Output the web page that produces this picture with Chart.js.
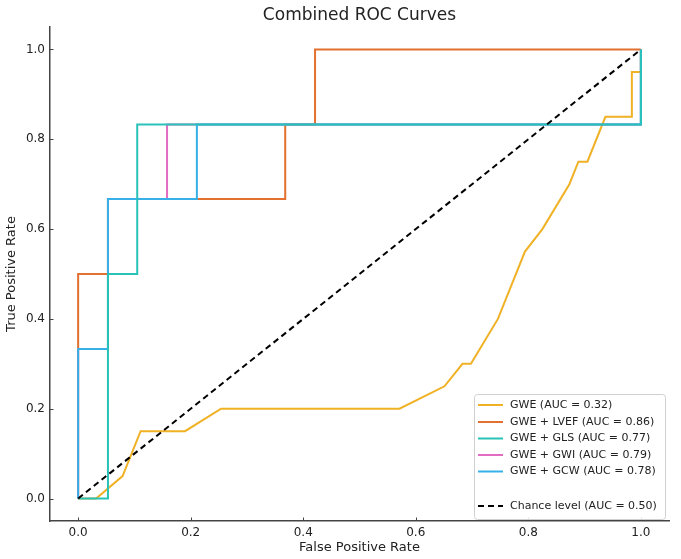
<!DOCTYPE html>
<html>
<head>
<meta charset="utf-8">
<script src="https://cdn.jsdelivr.net/npm/chart.js@4/dist/chart.umd.min.js"></script>
<style>
  html, body { margin: 0; padding: 0; background: #fff; }
  #wrap { width: 681px; height: 559px; }
</style>
</head>
<body>
<div id="wrap"><canvas id="roc" width="681" height="559"></canvas></div>
<script>
// ROC curve points
const fprGWE = [0, 0.032, 0.079, 0.111, 0.190, 0.254, 0.571, 0.651, 0.683, 0.698, 0.746, 0.794, 0.825, 0.873, 0.889, 0.905, 0.937, 0.984, 0.984, 1.0, 1.0];
const tprGWE = [0, 0, 0.05, 0.15, 0.15, 0.20, 0.20, 0.25, 0.30, 0.30, 0.40, 0.55, 0.60, 0.70, 0.75, 0.75, 0.85, 0.85, 0.95, 0.95, 1.0];

const fprLVEF = [0, 0, 0.053, 0.053, 0.368, 0.368, 0.421, 0.421, 1.0];
const tprLVEF = [0, 0.5, 0.5, 0.667, 0.667, 0.833, 0.833, 1.0, 1.0];

const fprGLS = [0, 0.053, 0.053, 0.105, 0.105, 1.0, 1.0];
const tprGLS = [0, 0, 0.5, 0.5, 0.833, 0.833, 1.0];

const fprGWI = [0, 0, 0.053, 0.053, 0.158, 0.158, 1.0, 1.0];
const tprGWI = [0, 0.333, 0.333, 0.667, 0.667, 0.833, 0.833, 1.0];

const fprGCW = [0, 0, 0.053, 0.053, 0.211, 0.211, 1.0, 1.0];
const tprGCW = [0, 0.333, 0.333, 0.667, 0.667, 0.833, 0.833, 1.0];

const fprChance = [0, 1];
const tprChance = [0, 1];

const tickValues = [0, 0.2, 0.4, 0.6, 0.8, 1.0];

const FONT = "'DejaVu Sans', sans-serif";
const TEXT = '#222';
const SPINE = '#444';

const toPoints = (xs, ys) => xs.map((x, i) => ({ x: x, y: ys[i] }));

// order: lower number is drawn on top
const series = [
  { label: 'GWE (AUC = 0.32)', xs: fprGWE, ys: tprGWE, color: '#f0b125', order: 5 },
  { label: 'GWE + LVEF (AUC = 0.86)', xs: fprLVEF, ys: tprLVEF, color: '#e2702f', order: 4 },
  { label: 'GWE + GLS (AUC = 0.77)', xs: fprGLS, ys: tprGLS, color: '#28c2b9', order: 1 },
  { label: 'GWE + GWI (AUC = 0.79)', xs: fprGWI, ys: tprGWI, color: '#e26cc2', order: 3 },
  { label: 'GWE + GCW (AUC = 0.78)', xs: fprGCW, ys: tprGCW, color: '#36b0e6', order: 2 }
];

const datasets = series.map(s => ({
  label: s.label,
  data: toPoints(s.xs, s.ys),
  borderColor: s.color,
  backgroundColor: s.color,
  borderWidth: 2,
  showLine: true,
  pointRadius: 0,
  tension: 0,
  order: s.order
}));

datasets.push({
  label: 'Chance level (AUC = 0.50)',
  data: toPoints(fprChance, tprChance),
  borderColor: '#000',
  backgroundColor: '#000',
  borderWidth: 2,
  borderDash: [6, 4],
  showLine: true,
  pointRadius: 0,
  order: 0
});

// title centred over the axes, inward ticks and the legend box
const decorations = {
  id: 'decorations',
  afterDatasetsDraw(chart) {
    const { ctx, chartArea, scales } = chart;
    ctx.save();

    // inward tick marks
    ctx.strokeStyle = SPINE;
    ctx.lineWidth = 1;
    tickValues.forEach(v => {
      const px = Math.round(scales.x.getPixelForValue(v)) + 0.5;
      ctx.beginPath();
      ctx.moveTo(px, chartArea.bottom);
      ctx.lineTo(px, chartArea.bottom - 3.5);
      ctx.stroke();
      const py = Math.round(scales.y.getPixelForValue(v)) + 0.5;
      ctx.beginPath();
      ctx.moveTo(chartArea.left, py);
      ctx.lineTo(chartArea.left + 3.5, py);
      ctx.stroke();
    });

    // title
    ctx.fillStyle = TEXT;
    ctx.font = '17px ' + FONT;
    ctx.textAlign = 'center';
    ctx.textBaseline = 'middle';
    ctx.fillText('Combined ROC Curves', (chartArea.left + chartArea.right) / 2, 16);

    // legend
    const bx = 474, by = 394, bw = 191, bh = 125;
    ctx.beginPath();
    ctx.roundRect(bx + 0.5, by + 0.5, bw, bh, 3);
    ctx.fillStyle = 'rgba(255,255,255,0.85)';
    ctx.fill();
    ctx.strokeStyle = '#d0d0d0';
    ctx.lineWidth = 1;
    ctx.stroke();

    const rows = [405, 422, 438.5, 455, 471.5, 506];
    ctx.font = '11px ' + FONT;
    ctx.textAlign = 'left';
    chart.data.datasets.forEach((ds, i) => {
      const y = rows[i];
      ctx.beginPath();
      ctx.strokeStyle = ds.borderColor;
      ctx.lineWidth = 2;
      ctx.setLineDash(ds.borderDash || []);
      ctx.moveTo(478, y);
      ctx.lineTo(503, y);
      ctx.stroke();
      ctx.setLineDash([]);
      ctx.fillStyle = TEXT;
      ctx.fillText(ds.label, 510, y);
    });

    ctx.restore();
  }
};

const axisOptions = (title) => ({
  type: 'linear',
  min: -0.05,
  max: 1.05,
  afterBuildTicks: scale => { scale.ticks = tickValues.map(v => ({ value: v })); },
  ticks: {
    color: TEXT,
    font: { family: FONT, size: 12 },
    padding: 5,
    callback: v => v.toFixed(1)
  },
  grid: { display: false, drawTicks: false },
  border: { display: true, color: SPINE, width: 1.5 },
  title: {
    display: true,
    text: title,
    color: TEXT,
    font: { family: FONT, size: 13 },
    padding: { top: 4, bottom: 4 }
  }
});

const xAxis = axisOptions('False Positive Rate');
xAxis.position = 'bottom';
xAxis.afterFit = scale => { scale.height = 38; };

const yAxis = axisOptions('True Positive Rate');
yAxis.position = 'left';
yAxis.afterFit = scale => { scale.width = 50; };

new Chart(document.getElementById('roc').getContext('2d'), {
  type: 'scatter',
  data: { datasets: datasets },
  options: {
    responsive: false,
    animation: false,
    layout: { padding: { top: 27, right: 12, left: 0, bottom: 0 } },
    plugins: {
      legend: { display: false },
      title: { display: false },
      tooltip: { enabled: false }
    },
    scales: { x: xAxis, y: yAxis }
  },
  plugins: [decorations]
});
</script>
</body>
</html>
